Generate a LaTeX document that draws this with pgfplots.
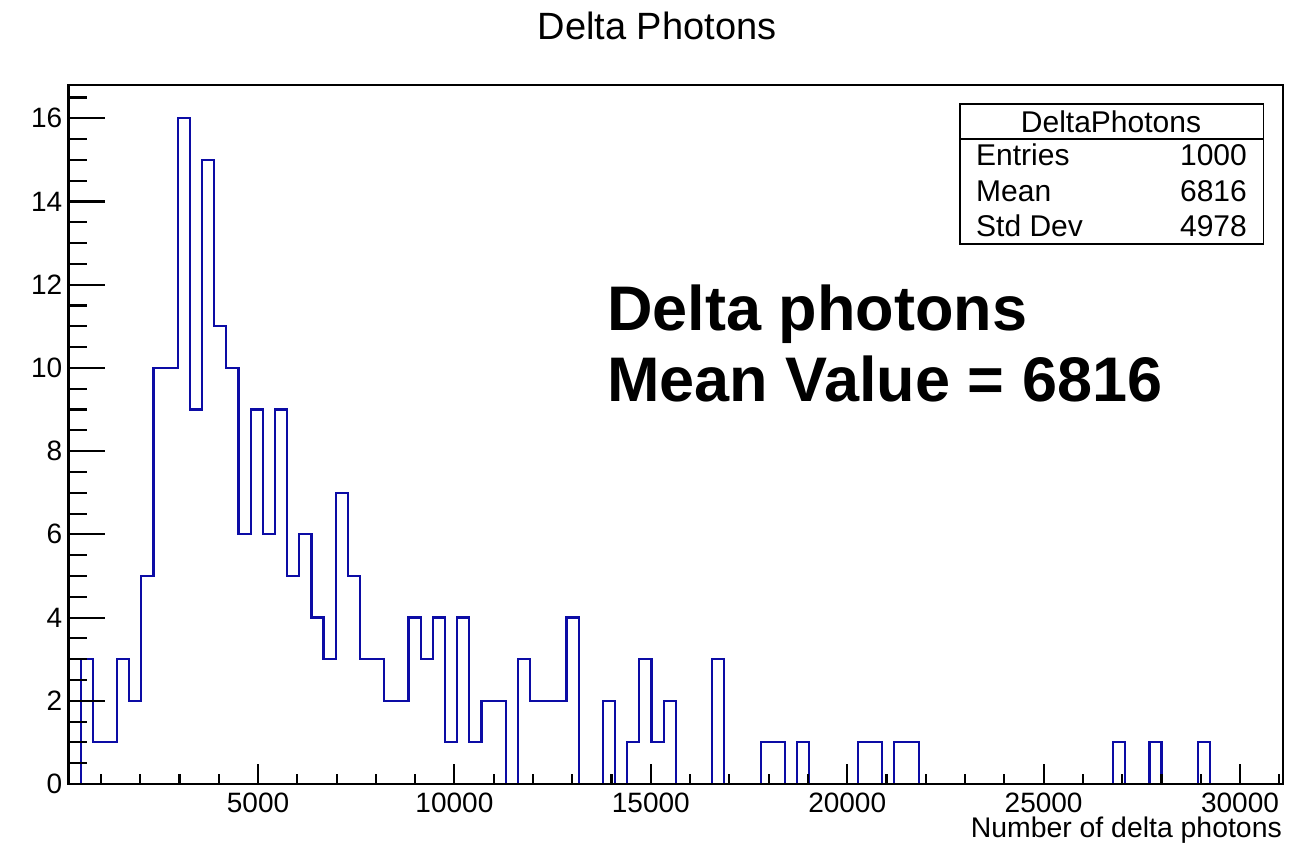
\documentclass[border=0pt]{standalone}
\usepackage{fontspec}
\setmainfont{Liberation Sans}
\usepackage{pgfplots}
\usepackage{pgfplotstable}
\pgfplotsset{compat=1.18}

\definecolor{histblue}{RGB}{12,12,165}

% DeltaPhotons histogram: lower bin edge and bin content (100 bins),
% last row closes the final bin at the upper range limit
\pgfplotstableread{
edge n
175 0
484.2 3
793.4 1
1102.6 1
1411.8 3
1721 2
2030.2 5
2339.4 10
2648.6 10
2957.8 16
3267 9
3576.2 15
3885.4 11
4194.6 10
4503.8 6
4813 9
5122.2 6
5431.4 9
5740.6 5
6049.8 6
6359 4
6668.2 3
6977.4 7
7286.6 5
7595.8 3
7905 3
8214.2 2
8523.4 2
8832.6 4
9141.8 3
9451 4
9760.2 1
10069.4 4
10378.6 1
10687.8 2
10997 2
11306.2 0
11615.4 3
11924.6 2
12233.8 2
12543 2
12852.2 4
13161.4 0
13470.6 0
13779.8 2
14089 0
14398.2 1
14707.4 3
15016.6 1
15325.8 2
15635 0
15944.2 0
16253.4 0
16562.6 3
16871.8 0
17181 0
17490.2 0
17799.4 1
18108.6 1
18417.8 0
18727 1
19036.2 0
19345.4 0
19654.6 0
19963.8 0
20273 1
20582.2 1
20891.4 0
21200.6 1
21509.8 1
21819 0
22128.2 0
22437.4 0
22746.6 0
23055.8 0
23365 0
23674.2 0
23983.4 0
24292.6 0
24601.8 0
24911 0
25220.2 0
25529.4 0
25838.6 0
26147.8 0
26457 0
26766.2 1
27075.4 0
27384.6 0
27693.8 1
28003 0
28312.2 0
28621.4 0
28930.6 1
29239.8 0
29549 0
29858.2 0
30167.4 0
30476.6 0
30785.8 0
31095 0
}\deltahist

\pgfplotsset{
  rootframe/.style={
    at={(68.5pt,65pt)}, anchor=south west,
    scale only axis, width=1214.5pt, height=699pt,
    xmin=175, xmax=31095, ymin=0, ymax=16.8,
    tick align=inside,
    tick style={black, line width=2.1pt},
    tick label style={font=\fontsize{28}{28}\selectfont, inner sep=0pt},
    /pgf/number format/assume math mode=true,
    /pgf/number format/1000 sep={},
    scaled ticks=false,
  },
}

\begin{document}
\begin{tikzpicture}
\useasboundingbox (0,0) rectangle (1292pt,849pt);

% frame, y ticks and the histogram
\begin{axis}[
  rootframe,
  axis on top,
  axis line style={black, line width=2.2pt},
  xtick=\empty,
  ytick={0,2,...,16},
  minor ytick={0,0.5,...,16.5},
  ytick pos=left,
  major tick length=36pt,
  minor tick length=18pt,
  yticklabel style={anchor=east, xshift=-6pt},
]
\addplot[const plot, histblue, line width=2.2pt, line join=miter] table[x=edge, y=n] {\deltahist};
\end{axis}

% x ticks
\begin{axis}[
  rootframe,
  hide y axis,
  axis line style={black, line width=2.2pt},
  xtick={5000,10000,...,30000},
  minor xtick={1000,2000,...,31000},
  xtick pos=bottom,
  major tick length=20pt,
  minor tick length=10pt,
  xticklabel style={anchor=north, yshift=-9pt},
]
\addplot[draw=none] coordinates {(175,0)};
\end{axis}

% titles
\node[anchor=base, font=\fontsize{38}{38}\selectfont] at (657pt,809.7pt) {Delta Photons};
\node[anchor=base east, font=\fontsize{28.4}{28.4}\selectfont, inner sep=0pt] at (1282pt,12pt) {Number of delta photons};

% statistics box
\draw[black, line width=1.8pt, fill=white] (960pt,605pt) rectangle (1263.5pt,745pt);
\draw[black, line width=1.8pt] (960pt,710pt) -- (1263.5pt,710pt);
\begin{scope}[every node/.style={font=\fontsize{30}{30}\selectfont, inner sep=0pt}]
\node[anchor=base] at (1111pt,716.3pt) {DeltaPhotons};
\node[anchor=base west] at (976pt,683pt) {Entries};
\node[anchor=base east] at (1247pt,683pt) {1000};
\node[anchor=base west] at (976pt,647.3pt) {Mean};
\node[anchor=base east] at (1247pt,647.3pt) {6816};
\node[anchor=base west] at (976pt,612.3pt) {Std Dev};
\node[anchor=base east] at (1247pt,612.3pt) {4978};
\end{scope}

% annotation
\begin{scope}[every node/.style={font=\bfseries\fontsize{63}{63}\selectfont, inner sep=0pt, anchor=base west}]
\node at (607pt,518pt) {Delta photons};
\node at (607pt,447.5pt) {Mean Value = 6816};
\end{scope}
\end{tikzpicture}
\end{document}
